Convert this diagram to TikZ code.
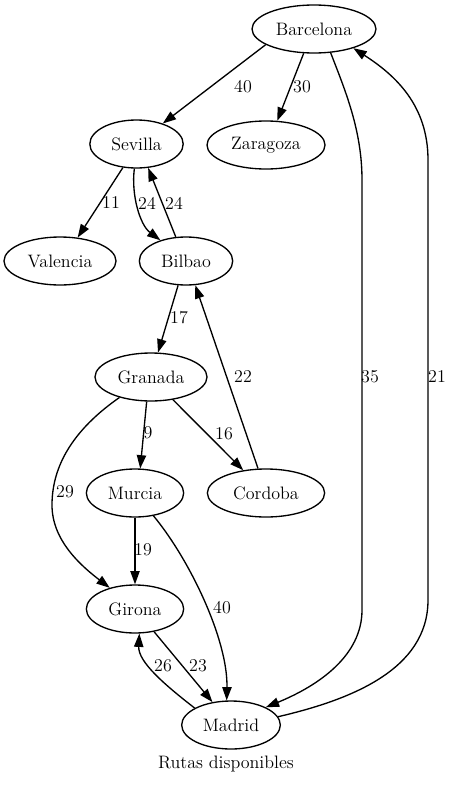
\documentclass[tikz,border=0pt]{standalone}
\usetikzlibrary{shapes.geometric,arrows.meta}
\begin{document}
\begin{tikzpicture}[x=0.75pt,y=-0.75pt,
  city/.style={draw,ellipse,line width=1pt,inner sep=0pt,minimum height=36pt,font=\fontsize{13.5}{16}\selectfont},
  lbl/.style={inner sep=0pt,font=\fontsize{13.5}{16}\selectfont},
  edge/.style={draw,line width=1pt,-{Triangle[length=10pt,width=7pt]}}]
\useasboundingbox (0,0) rectangle (453,785);
\node[city,minimum width=93pt] (bar) at (314,29) {Barcelona};
\node[city,minimum width=88.5pt] (zar) at (266,145) {Zaragoza};
\node[city,minimum width=70pt] (sev) at (136.5,144) {Sevilla};
\node[city,minimum width=84pt] (val) at (60,261) {Valencia};
\node[city,minimum width=70pt] (bil) at (186,261) {Bilbao};
\node[city,minimum width=84pt] (gra) at (151,377) {Granada};
\node[city,minimum width=73pt] (mur) at (135,493) {Murcia};
\node[city,minimum width=88pt] (cor) at (266,493) {Cordoba};
\node[city,minimum width=73pt] (gir) at (135,609) {Girona};
\node[city,minimum width=74pt] (mad) at (231,725) {Madrid};
\node[lbl] (title) at (226,764) {Rutas disponibles};

\draw[edge] (bar.198) -- (sev.38);
\draw[edge] (bar.247) -- (zar.65);
\draw[edge] (bar.305) .. controls (345,90) and (362,130) .. (362,180) -- (362,610) .. controls (362,655) and (320,685) .. (mad.27);
\draw[edge] (mad.10) .. controls (350,700) and (428,670) .. (428,600) -- (428,160) .. controls (428,105) and (395,75) .. (bar.334);
\draw[edge] (sev.240) -- (val.53);
\draw[edge] (sev.265) .. controls (131,195) and (140,225) .. (bil.141);
\draw[edge] (bil.113) -- (sev.296);
\draw[edge] (bil.252) -- (gra.74);
\draw[edge] (cor.108) -- (bil.291);
\draw[edge] (gra.260) -- (mur.78);
\draw[edge] (gra.314) -- (cor.135);
\draw[edge] (gra.213) .. controls (80,425) and (52,460) .. (52,505) .. controls (52,540) and (80,565) .. (gir.140);
\draw[edge] (mur.270) -- (gir.90);
\draw[edge] (mur.309) .. controls (190,560) and (228,640) .. (mad.100);
\draw[edge] (gir.310) -- (mad.129);
\draw[edge] (mad.155) .. controls (165,685) and (138,662) .. (gir.280);

\node[lbl] (l1) at (243,87) {40};
\node[lbl] (l2) at (302,87) {30};
\node[lbl] (l3) at (370,377) {35};
\node[lbl] (l4) at (437,377) {21};
\node[lbl] (l5) at (111,203) {11};
\node[lbl] (l6) at (147,203) {24};
\node[lbl] (l7) at (174,203) {24};
\node[lbl] (l8) at (179,318) {17};
\node[lbl] (l9) at (243,377) {22};
\node[lbl] (l10) at (148,433) {9};
\node[lbl] (l11) at (224,434) {16};
\node[lbl] (l12) at (65,492) {29};
\node[lbl] (l13) at (143,550) {19};
\node[lbl] (l14) at (222,608) {40};
\node[lbl] (l15) at (163,666) {26};
\node[lbl] (l16) at (198,666) {23};
\end{tikzpicture}
\end{document}
